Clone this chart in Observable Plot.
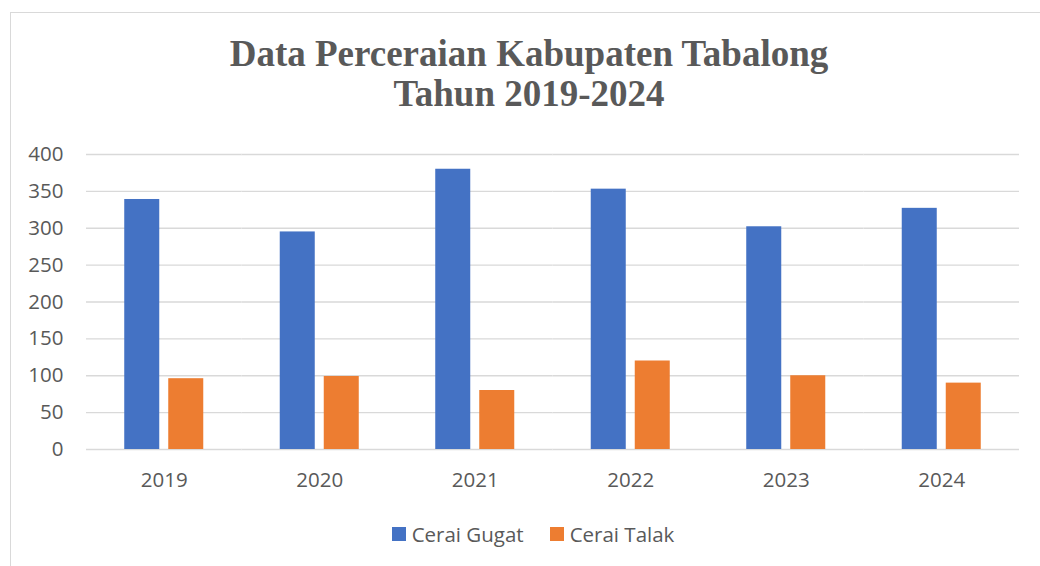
<!DOCTYPE html>
<html>
<head>
<meta charset="utf-8">
<script src="https://cdn.jsdelivr.net/npm/d3@7"></script>
<script src="https://cdn.jsdelivr.net/npm/@observablehq/plot@0.6"></script>
<style>
  html, body { margin: 0; padding: 0; background: #fff; overflow: hidden; width: 1040px; height: 566px; }
  #frame { position: absolute; left: 10px; top: 12px; width: 1100px; height: 600px;
           border-left: 1.5px solid #d9d9d9; border-top: 1.5px solid #d9d9d9; box-sizing: border-box; }
  #title { position: absolute; left: 10px; width: 1038px; top: 34px; text-align: center;
           font-family: "Liberation Serif", "DejaVu Serif", serif; font-weight: bold; font-size: 37px;
           line-height: 40px; color: #595959; }
  #chart { position: absolute; left: 0; top: 130px; }
  #legend { position: absolute; left: 0; width: 1066px; top: 520px; height: 28px; display: flex;
            justify-content: center; align-items: center; font-family: "Open Sans", sans-serif;
            font-size: 20.5px; color: #595959; }
  .item { display: flex; align-items: center; margin: 0 13px; }
  .sw { width: 14px; height: 14px; margin-right: 6px; }
</style>
</head>
<body>
<div id="frame"></div>
<div id="title">Data Perceraian Kabupaten Tabalong<br>Tahun 2019-2024</div>
<div id="chart"></div>
<div id="legend"></div>
<script>
const years = ["2019", "2020", "2021", "2022", "2023", "2024"];
const seriesNames = ["Cerai Gugat", "Cerai Talak"];
const ceraiGugat = [339, 295, 380, 353, 302, 327];
const ceraiTalak = [96, 99, 80, 120, 100, 90];
const yTicks = [0, 50, 100, 150, 200, 250, 300, 350, 400];
const colors = ["#4472C4", "#ED7D31"];

const data = years.flatMap((yr, i) => [
  {year: yr, series: seriesNames[0], value: ceraiGugat[i]},
  {year: yr, series: seriesNames[1], value: ceraiTalak[i]}
]);

const chart = Plot.plot({
  width: 1040,
  height: 369,
  marginLeft: 86,
  marginRight: 21,
  marginTop: 24,
  marginBottom: 50,
  style: {fontFamily: "'Open Sans', sans-serif", fontSize: "20.5px", color: "#595959", background: "transparent"},
  fx: {domain: years, padding: 0, round: false, label: null},
  x: {domain: seriesNames, paddingInner: 0.2045, paddingOuter: 0.869, round: false, axis: null},
  y: {domain: [0, 400], label: null},
  color: {domain: seriesNames, range: colors},
  marks: [
    Plot.ruleY(yTicks, {stroke: "#d9d9d9", strokeWidth: 1.3}),
    Plot.barY(data, {fx: "year", x: "series", y: "value", fill: "series"}),
    Plot.axisY({ticks: yTicks, tickSize: 0, tickPadding: 23, label: null, fill: "#595959"}),
    Plot.axisFx({anchor: "bottom", tickSize: 0, tickPadding: 23, label: null, fill: "#595959"})
  ]
});
document.getElementById("chart").appendChild(chart);

const legend = document.getElementById("legend");
seriesNames.forEach((s, i) => {
  const it = document.createElement("div");
  it.className = "item";
  const sw = document.createElement("div");
  sw.className = "sw";
  sw.style.background = colors[i];
  const tx = document.createElement("span");
  tx.textContent = s;
  it.appendChild(sw);
  it.appendChild(tx);
  legend.appendChild(it);
});
</script>
</body>
</html>
